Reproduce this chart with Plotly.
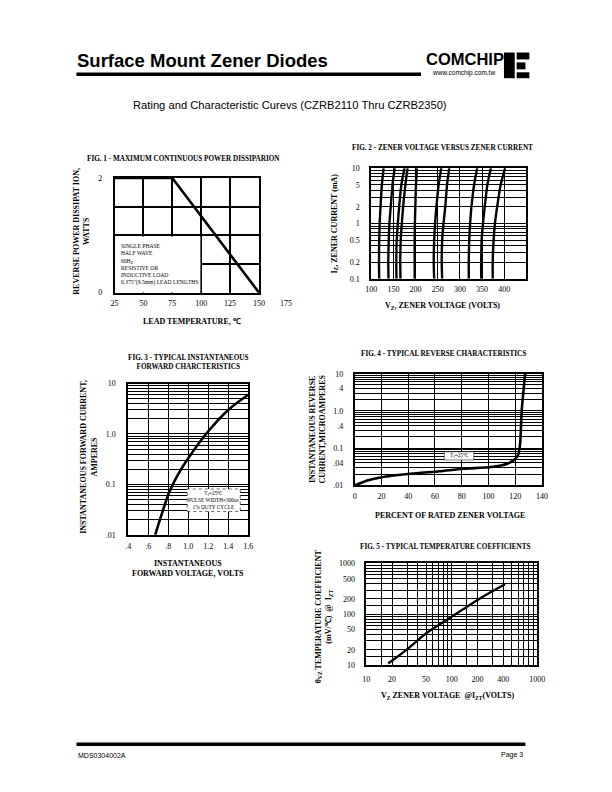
import plotly.graph_objects as go

OFF = 8                      # default body margin of the browser page
W, H = 584, 764              # kept smaller than the window so the page never scrolls
SERIF = "Liberation Serif"
SANS = "Liberation Sans"


def px(x):
    return (x - OFF) / W


def py(y):
    return 1 - (y - OFF) / H


# ---------------- DATA ----------------
# Fig 1 - maximum continuous power dissipation
fig1_temp = [25, 75, 150]
fig1_power = [2, 2, 0]
fig1_xticks = [25, 50, 75, 100, 125, 150]
fig1_xlabels = ["25", "50", "75", "100", "125", "150"]

# Fig 2 - zener voltage vs zener current (one voltage list per device curve)
fig2_current = [0.1, 0.2, 0.5, 1, 2, 5, 10]
fig2_voltage_curves = [
    [118, 117.5, 118, 119, 121, 124, 128],
    [139, 138.5, 139.5, 141, 144, 148, 153],
    [157, 156.5, 157.5, 160, 163, 168, 175],
    [166, 165.5, 166.5, 169, 172, 177, 182],
    [198, 198, 198, 198.5, 199.5, 201, 203],
    [242, 241, 242, 244, 247, 252, 258],
    [260, 259, 260, 263, 267, 271, 276],
    [320, 320, 321, 323, 326, 332, 339],
    [348, 348, 349, 352, 356, 362, 370],
    [374, 374, 376, 379, 384, 392, 402],
]
fig2_xticks = [100, 150, 200, 250, 300, 350, 400, 450]
fig2_xlabels = ["100", "150", "200", "250", "300", "350", "400", ""]
fig2_yticks = [0.1, 0.2, 0.5, 1, 2, 5, 10]
fig2_ylabels = ["0.1", "0.2", "0.5", "1", "2", "5", "10"]

# Fig 3 - typical instantaneous forward characteristics
fig3_voltage = [0.67, 0.736, 0.81, 0.9, 1.0, 1.19, 1.4, 1.6]
fig3_current = [0.01, 0.026, 0.07, 0.16, 0.33, 1.07, 3.0, 6.0]
fig3_xticks = [0.4, 0.6, 0.8, 1.0, 1.2, 1.4, 1.6]
fig3_xlabels = [".4", ".6", ".8", "1.0", "1.2", "1.4", "1.6"]
fig3_yticks = [0.01, 0.1, 1, 10]
fig3_ylabels = [".01", "0.1", "1.0", "10"]

# Fig 4 - typical reverse characteristics
fig4_percent = [0, 9.5, 20.4, 41.8, 63.4, 81.2, 101.9, 114, 120.1, 122.5, 123.7, 124.9, 127.4]
fig4_current = [0.01, 0.0135, 0.0166, 0.0205, 0.024, 0.028, 0.031, 0.038,
                0.052, 0.07, 0.143, 1.1, 10]
fig4_xticks = [0, 20, 40, 60, 80, 100, 120, 140]
fig4_xlabels = ["0", "20", "40", "60", "80", "100", "120", "140"]
fig4_yticks = [0.01, 0.04, 0.1, 0.4, 1, 4, 10]
fig4_ylabels = [".01", ".04", "0.1", ".4", "1.0", "4", "10"]

# Fig 5 - typical temperature coefficients
fig5_vz = [18, 30.5, 49, 100, 219, 420]
fig5_coef = [10.8, 21, 41, 90, 210, 390]
fig5_xticks = [10, 20, 50, 100, 200, 400, 1000]
fig5_xlabels = ["10", "20", "50", "100", "200", "400", "1000"]
fig5_yticks = [10, 20, 50, 100, 200, 500, 1000]
fig5_ylabels = ["10", "20", "50", "100", "200", "500", "1000"]

# ---------------- FIGURE ----------------
fig = go.Figure()

LINE = dict(color="black", width=2.6)

fig.add_trace(go.Scatter(x=fig1_temp, y=fig1_power, mode="lines", line=LINE,
                         xaxis="x", yaxis="y", showlegend=False, hoverinfo="skip"))
for vc in fig2_voltage_curves:
    fig.add_trace(go.Scatter(x=vc, y=fig2_current, mode="lines",
                             line=dict(color="black", width=2.4, shape="spline", smoothing=0.8),
                             xaxis="x2", yaxis="y2", showlegend=False, hoverinfo="skip"))
fig.add_trace(go.Scatter(x=fig3_voltage, y=fig3_current, mode="lines",
                         line=dict(color="black", width=2.6, shape="spline", smoothing=0.8),
                         xaxis="x3", yaxis="y3", showlegend=False, hoverinfo="skip"))
fig.add_trace(go.Scatter(x=fig4_percent, y=fig4_current, mode="lines",
                         line=dict(color="black", width=2.6, shape="spline", smoothing=0.6),
                         xaxis="x4", yaxis="y4", showlegend=False, hoverinfo="skip"))
fig.add_trace(go.Scatter(x=fig5_vz, y=fig5_coef, mode="lines",
                         line=dict(color="black", width=2.4, shape="spline", smoothing=0.8),
                         xaxis="x5", yaxis="y5", showlegend=False, hoverinfo="skip"))

TICKFONT = dict(family=SERIF, size=8, color="black")


def axis(domain, anchor, standoff, gw=1.3, **kw):
    d = dict(domain=domain, anchor=anchor, showline=True, mirror=True,
             linecolor="black", linewidth=1.6, showgrid=True, gridcolor="black",
             gridwidth=gw, zeroline=False, ticks="", tickfont=TICKFONT,
             fixedrange=True, tickmode="array", ticklabelstandoff=standoff)
    d.update(kw)
    return d


def logminor(lo, hi, extra=()):
    vals = []
    for e in range(lo, hi):
        for d in range(1, 10):
            vals.append(d * 10 ** e)
    vals.append(10 ** hi)
    vals.extend(extra)
    return dict(tickmode="array", tickvals=sorted(vals), showgrid=True,
                gridcolor="black", gridwidth=1.1, ticks="")


XS, YS = 2, 8   # tick label standoffs for x and y axes

# domains from page pixels
D1x, D1y = [px(111), px(259)], [py(292), py(176)]
D2x, D2y = [px(374), px(533)], [py(278), py(166)]
D3x, D3y = [px(125), px(248)], [py(537), py(384)]
D4x, D4y = [px(357), px(549)], [py(487), py(374)]
D5x, D5y = [px(369), px(544)], [py(669), py(566)]

fig.update_layout(
    width=W, height=H, margin=dict(l=0, r=0, t=0, b=0),
    paper_bgcolor="white", plot_bgcolor="white", showlegend=False,
    xaxis=axis(D1x, "y", XS, gw=1.7, range=[25, 150], tickvals=fig1_xticks,
               ticktext=fig1_xlabels),
    yaxis=axis(D1y, "x", YS + 1, gw=1.7, range=[0, 2], tickvals=[0, 0.5, 1, 1.5, 2],
               ticktext=["0", "", "", "", "2"]),
    xaxis2=axis(D2x, "y2", XS, range=[100, 450], tickvals=fig2_xticks, ticktext=fig2_xlabels),
    yaxis2=axis(D2y, "x2", YS, type="log", range=[-1, 1], tickvals=fig2_yticks,
                ticktext=fig2_ylabels, minor=logminor(-1, 1)),
    xaxis3=axis(D3x, "y3", XS + 1, range=[0.4, 1.6], tickvals=fig3_xticks,
                ticktext=fig3_xlabels),
    yaxis3=axis(D3y, "x3", YS + 1, type="log", range=[-2, 1], tickvals=fig3_yticks,
                ticktext=fig3_ylabels, minor=logminor(-2, 1)),
    xaxis4=axis(D4x, "y4", XS, range=[0, 140], tickvals=fig4_xticks, ticktext=fig4_xlabels),
    yaxis4=axis(D4y, "x4", YS, type="log", range=[-2, 1], tickvals=fig4_yticks,
                ticktext=fig4_ylabels, minor=logminor(-2, 1)),
    xaxis5=axis(D5x, "y5", XS + 3, type="log", range=[1, 3], tickvals=fig5_xticks,
                ticktext=fig5_xlabels, minor=logminor(1, 3, extra=(15, 150))),
    yaxis5=axis(D5y, "x5", YS, type="log", range=[1, 3], tickvals=fig5_yticks,
                ticktext=fig5_ylabels, minor=logminor(1, 3, extra=(15, 150))),
)

shapes = []
annotations = []


def ann(text, x, y, size=8, bold=False, family=SERIF, angle=0, xanchor="center",
        yanchor="middle", align="center"):
    if bold:
        text = "<b>" + text + "</b>"
    annotations.append(dict(text=text, x=px(x), y=py(y), xref="paper", yref="paper",
                            showarrow=False, textangle=angle, xanchor=xanchor,
                            yanchor=yanchor, align=align,
                            font=dict(family=family, size=size, color="black")))


# ---- page header ----
ann("Surface Mount Zener Diodes", 70, 57, size=18.5, bold=True, family=SANS, xanchor="left")
shapes.append(dict(type="line", xref="paper", yref="paper", x0=px(72), x1=px(425),
                   y0=py(71), y1=py(71), line=dict(color="black", width=3.5)))
ann("COMCHIP", 470, 56, size=16.5, bold=True, family="Liberation Sans Narrow, Liberation Sans")
ann("www.comchip.com.tw", 469, 70, size=6.5, family=SANS)
# logo blocks
for (x0, y0, x1, y1) in [(510, 49, 521, 75), (523, 49, 536, 56), (523, 59, 532, 66),
                         (523, 69, 536, 75)]:
    shapes.append(dict(type="rect", xref="paper", yref="paper", x0=px(x0), x1=px(x1),
                       y0=py(y1), y1=py(y0), fillcolor="black", line=dict(width=0)))
ann("Rating and Characteristic Curevs (CZRB2110 Thru CZRB2350)", 291, 102, size=11.2,
    family=SANS)

# ---- footer ----
shapes.append(dict(type="line", xref="paper", yref="paper", x0=px(72), x1=px(532),
                   y0=py(749), y1=py(749), line=dict(color="black", width=3.5)))
ann("MDS0304002A", 72, 760, size=7, family=SANS, xanchor="left")
ann("Page 3", 532, 760, size=7, family=SANS, xanchor="right")

# ---- Fig 1 ----
ann("FIG. 1 - MAXIMUM CONTINUOUS POWER DISSIPARION", 182, 157, size=7.2, bold=True)
ann("REVERSE POWER DISSIPAT ION,<br>WATTS", 77, 230, size=8, bold=True, angle=-90)
ann("LEAD TEMPERATURE, ℃", 190, 321, size=8, bold=True)
ann("175", 287, 303, size=8)
shapes.append(dict(type="rect", xref="x", yref="y", x0=25, x1=99.3, y0=0, y1=0.98,
                   fillcolor="white", line=dict(width=0), layer="between"))
ann("SINGLE PHASE<br>HALF WAVE<br>60H<sub>Z</sub><br>RESISTIVE OR<br>INDUCTIVE LOAD<br>"
    "0.375\"(9.5mm) LEAD LENGTHS", 116, 264, size=5.6, xanchor="left", align="left")

# ---- Fig 2 ----
ann("FIG. 2 - ZENER VOLTAGE VERSUS ZENER CURRENT", 447, 146, size=7.2, bold=True)
ann("I<sub>Z</sub>, ZENER CURRENT (mA)", 337, 222, size=8, bold=True, angle=-90)
ann("V<sub>Z</sub>, ZENER VOLTAGE (VOLTS)", 447, 305, size=8, bold=True)

# ---- Fig 3 ----
ann("FIG. 3 - TYPICAL INSTANTANEOUS<br>FORWARD CHARCTERISTICS", 186, 363, size=7.2, bold=True)
ann("INSTANTANEOUS FORWARD CURRENT,<br>AMPERES", 85, 458, size=8, bold=True, angle=-90)
ann("INSTANTANEOUS<br>FORWARD VOLTAGE, VOLTS", 186, 571, size=8, bold=True)
shapes.append(dict(type="rect", xref="x3", yref="y3", x0=0.99, x1=1.52, y0=0.029, y1=0.081,
                   fillcolor="white", line=dict(color="black", width=0.6, dash="dot"),
                   layer="between"))
annotations.append(dict(text="T<sub>J</sub>=25℃<br>PULSE WIDTH=300us<br>1% DUTY CYCLE",
                        x=1.255, y=-1.31, xref="x3", yref="y3", showarrow=False,
                        font=dict(family=SERIF, size=5.3, color="black")))

# ---- Fig 4 ----
ann("FIG. 4 - TYPICAL REVERSE CHARACTERISTICS", 448, 354, size=7.2, bold=True)
ann("INSTANTANEOUS REVERSE<br>CURRENT,MICROAMPERES", 318, 430, size=8, bold=True, angle=-90)
ann("PERCENT OF RATED ZENER VOLTAGE", 455, 517, size=8, bold=True)
shapes.append(dict(type="rect", xref="x4", yref="y4", x0=67, x1=89, y0=0.048, y1=0.08,
                   fillcolor="white", line=dict(color="black", width=0.5),
                   layer="between"))
annotations.append(dict(text="T<sub>J</sub>=25℃", x=78, y=-1.2, xref="x4", yref="y4",
                        showarrow=False, font=dict(family=SERIF, size=5.3, color="black")))

# ---- Fig 5 ----
ann("FIG. 5 - TYPICAL TEMPERATURE COEFFICIENTS", 450, 549, size=7.2, bold=True)
ann("θ<sub>VZ</sub> TEMPERATURE COEFFICIENT<br>(mV/℃)  @  I<sub>ZT</sub>", 325, 619,
    size=8, bold=True, angle=-90)
ann("V<sub>Z</sub> ZENER VOLTAGE  @I<sub>ZT</sub>(VOLTS)", 452, 700, size=8, bold=True)

fig.update_layout(shapes=shapes, annotations=annotations)
fig.write_html("out.html")
